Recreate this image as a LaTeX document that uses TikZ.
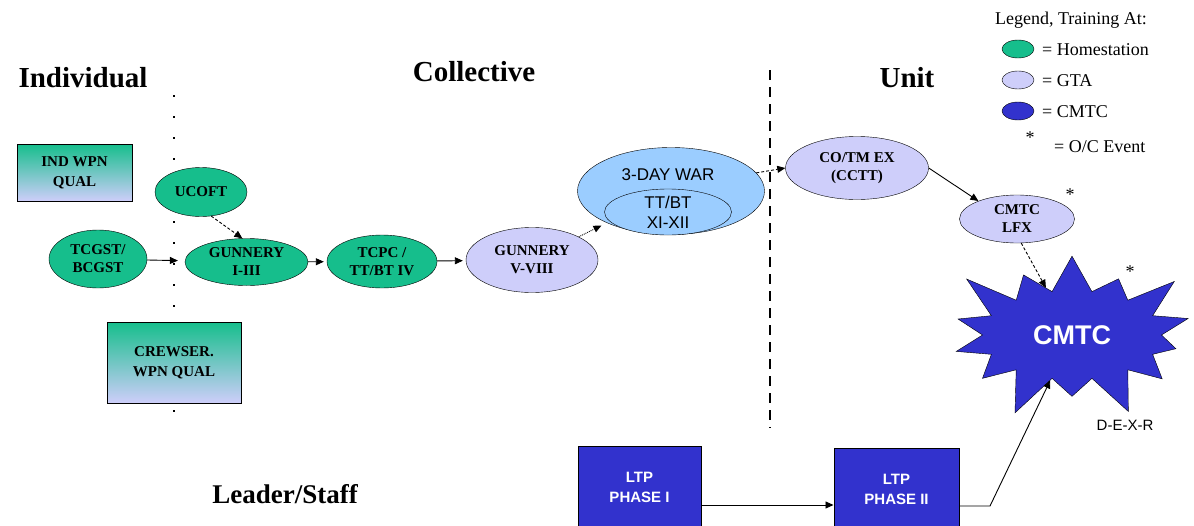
\documentclass[tikz,border=0pt]{standalone}
\usepackage{fontspec}
\setmainfont{Liberation Serif}
\setsansfont{Liberation Sans}
\usetikzlibrary{shapes.geometric,shapes.symbols,arrows.meta}

\definecolor{homegreen}{RGB}{22,190,140}
\definecolor{gtalav}{RGB}{206,206,250}
\definecolor{warblue}{RGB}{155,205,255}
\definecolor{cmtcblue}{RGB}{50,50,205}

\newcommand{\fsz}[2]{\fontsize{#1}{#2}\selectfont}

\begin{document}
\begin{tikzpicture}[x=1pt,y=-1pt,>={Triangle[length=8pt,width=7pt]}]
      \tikzstyle{every node}+=[inner sep=0pt, align=center]
      \tikzstyle{home}=[ellipse, draw=black, fill=homegreen, font=\fsz{15}{18}\bfseries]
      \tikzstyle{gta}=[ellipse, draw=black, fill=gtalav, font=\fsz{15}{18}\bfseries]
      \tikzstyle{qualbox}=[rectangle, draw=black, line width=1pt, top color=homegreen, bottom color=gtalav, font=\fsz{15}{20}\bfseries]
      \tikzstyle{ltpbox}=[rectangle, draw=black, line width=1pt, fill=cmtcblue, text=white, font=\sffamily\bfseries\fsz{15}{20}, minimum height=82pt]
      \tikzstyle{title}=[font=\fsz{29}{32}\bfseries]
      \tikzstyle{legend}=[font=\fsz{18}{20}, anchor=west]
      \tikzstyle{link}=[->, line width=0.9pt]
      \useasboundingbox (0,0) rectangle (1194,525);
      \draw [line width=2pt, dash pattern=on 2pt off 19pt] (174,95) -- (174,428);
      \draw [line width=1.5pt, dash pattern=on 10pt off 7pt] (770,70) -- (770,428);
      \node [title] (indiv) at (83,78) {Individual};
      \node [title] (coll) at (474,72) {Collective};
      \node [title] (unit) at (907,78) {Unit};
      \node [title, font=\fsz{27}{30}\bfseries] (leader) at (285,494) {Leader/Staff};
      \node [font=\fsz{18}{20}] (legtitle) at (1071,20) {Legend, Training At:};
      \node [ellipse, draw=black, fill=homegreen, minimum width=32pt, minimum height=18pt] (leghome) at (1018,49) {};
      \node [legend] (leghometxt) at (1042,50) {= Homestation};
      \node [ellipse, draw=black, fill=gtalav, minimum width=32pt, minimum height=18pt] (leggta) at (1018,80) {};
      \node [legend] (leggtatxt) at (1042,81) {= GTA};
      \node [ellipse, draw=black, fill=cmtcblue, minimum width=32pt, minimum height=18pt] (legcmtc) at (1018,111) {};
      \node [legend] (legcmtctxt) at (1042,112) {= CMTC};
      \node [font=\fsz{18}{20}] (legstar) at (1030,138) {*};
      \node [legend] (legstartxt) at (1054,147) {= O/C Event};
      \node [qualbox, minimum width=115pt, minimum height=57pt] (indwpn) at (74.5,172.5) {IND WPN\\QUAL};
      \node [qualbox, minimum width=134pt, minimum height=81pt] (crew) at (174,362.5) {CREWSER.\\WPN QUAL};
      \node [home, minimum width=92pt, minimum height=49pt] (ucoft) at (201,192) {UCOFT};
      \node [home, minimum width=98pt, minimum height=58pt] (tcgst) at (98,259) {TCGST/\\BCGST};
      \node [home, minimum width=123pt, minimum height=47pt] (gun13) at (246.5,262) {GUNNERY\\I-III};
      \node [home, minimum width=110pt, minimum height=53pt] (tcpc) at (382,261.5) {TCPC /\\TT/BT IV};
      \node [gta, minimum width=132pt, minimum height=65pt] (gun58) at (532,260) {GUNNERY\\V-VIII};
      \node [ellipse, draw=black, fill=warblue, minimum width=187pt, minimum height=87pt] (war) at (671,191) {};
      \node [font=\sffamily\fsz{17}{20}] (wartxt) at (668,175) {3-DAY WAR};
      \node [ellipse, draw=black, fill=warblue, minimum width=127pt, minimum height=46pt, font=\sffamily\fsz{17}{20}] (ttbt) at (668,212) {TT/BT\\XI-XII};
      \node [gta, minimum width=143pt, minimum height=63pt] (cotm) at (857,168) {CO/TM EX\\(CCTT)};
      \node [gta, minimum width=115pt, minimum height=48pt] (lfx) at (1017,219) {CMTC\\LFX};
      \node [starburst, starburst points=14, starburst point height=48pt, draw=black, fill=cmtcblue, text=white, font=\sffamily\bfseries\fsz{27}{30}, minimum width=275pt, minimum height=185pt] (cmtc) at (1072,335) {CMTC};
      \node [font=\fsz{18}{20}] (starlfx) at (1070,195) {*};
      \node [font=\fsz{18}{20}] (starcmtc) at (1130,272) {*};
      \node [font=\sffamily\fsz{15}{18}] (dexr) at (1125,425) {D-E-X-R};
      \node [ltpbox, minimum width=123pt] (ltp1) at (639.5,487) {LTP\\PHASE I};
      \node [ltpbox, minimum width=125pt] (ltp2) at (896.5,489) {LTP\\PHASE II};
      \coordinate (bend) at (990,506);
      \draw [link, shorten >=7pt] (tcgst) -- (gun13);
      \draw [link, densely dashed] (ucoft.-67) -- (gun13.100);
      \draw [link, shorten >=3pt] (gun13) -- (tcpc);
      \draw [link, shorten >=3pt] (tcpc) -- (gun58);
      \draw [link, densely dotted, shorten >=6pt] (gun58) -- (war);
      \draw [link, densely dashed] (war.12) -- (cotm.west);
      \draw [link] (cotm.east) -- (lfx.155);
      \draw [link, densely dashed] (lfx.-80) -- (cmtc);
      \draw [link] ([yshift=-18pt]ltp1.east) -- ([yshift=-18pt]ltp1.east -| ltp2.west);
      \draw [link] ([yshift=-17pt]ltp2.east) -- (bend) -- (cmtc);
\end{tikzpicture}
\end{document}
